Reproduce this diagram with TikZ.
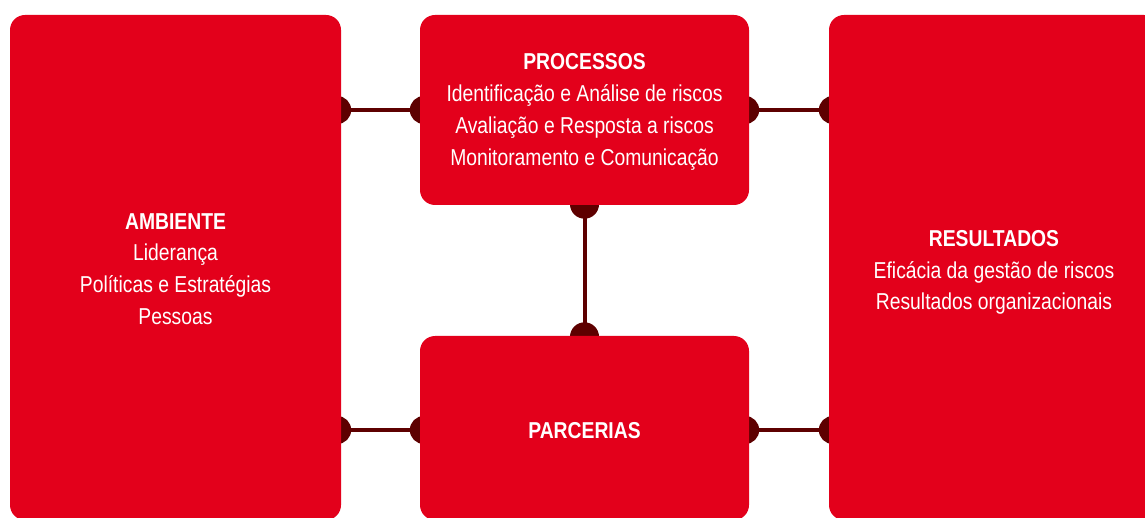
\documentclass[tikz,border=0pt]{standalone}
\usepackage{fontspec}
\setmainfont{Liberation Sans}[FakeStretch=0.84]
\usetikzlibrary{calc}
\definecolor{boxred}{HTML}{E3001B}
\definecolor{linkred}{HTML}{5E0000}
\pgfdeclarelayer{bg}
\pgfsetlayers{bg,main}
\begin{document}
\begin{tikzpicture}[x=1pt,y=-1pt,
  box/.style={fill=boxred, rounded corners=15pt, inner sep=0pt},
  txt/.style={inner sep=0pt, text=white, align=center,
    font=\fontsize{23}{31.8}\selectfont},
  link/.style={draw=linkred, line width=4pt},
  knob/.style={fill=linkred}]
\useasboundingbox (0,0) rectangle (1145,518);
\clip (0,0) rectangle (1145,518);
\node[box, minimum width=331pt, minimum height=505pt] (amb) at (175.5,267.5) {};
\node[box, minimum width=329pt, minimum height=190pt] (proc) at (584.5,110) {};
\node[box, minimum width=329pt, minimum height=184pt] (parc) at (584.5,428) {};
\node[box, minimum width=330pt, minimum height=505pt] (res) at (994,267.5) {};
\node[txt] (ambT) at ($(amb.center)+(0,1.5)$)
  {\textbf{AMBIENTE}\\Liderança\\Políticas e Estratégias\\Pessoas};
\node[txt] (procT) at ($(proc.center)+(0,2)$)
  {\textbf{PROCESSOS}\\Identificação e Análise de riscos\\Avaliação e Resposta a riscos\\Monitoramento e Comunicação};
\node[txt] (parcT) at ($(parc.center)+(0,3)$) {\textbf{PARCERIAS}};
\node[txt] (resT) at ($(res.center)+(0,5)$)
  {\textbf{RESULTADOS}\\Eficácia da gestão de riscos\\Resultados organizacionais};
\coordinate (a1) at (amb.east |- proc.west);
\coordinate (r1) at (res.west |- proc.east);
\coordinate (p2w) at ([yshift=-2pt]parc.west);
\coordinate (p2e) at ([yshift=-2pt]parc.east);
\coordinate (a2) at (amb.east |- p2w);
\coordinate (r2) at (res.west |- p2e);
\begin{pgfonlayer}{bg}
  \draw[link] (a1) -- (proc.west);
  \draw[link] (proc.east) -- (r1);
  \draw[link] (a2) -- (p2w);
  \draw[link] (p2e) -- (r2);
  \draw[link] (proc.south) -- (parc.north);
  \fill[knob] ([xshift=-4pt]a1) circle (14pt);
  \fill[knob] ([xshift=4pt]proc.west) circle (14pt);
  \fill[knob] ([xshift=-4pt]proc.east) circle (14pt);
  \fill[knob] ([xshift=4pt]r1) circle (14pt);
  \fill[knob] ([xshift=-4pt]a2) circle (14pt);
  \fill[knob] ([xshift=4pt]p2w) circle (14pt);
  \fill[knob] ([xshift=-4pt]p2e) circle (14pt);
  \fill[knob] ([xshift=4pt]r2) circle (14pt);
  \fill[knob] ([yshift=1pt]proc.south) circle (14.5pt);
  \fill[knob] ([yshift=-1pt]parc.north) circle (14.5pt);
\end{pgfonlayer}
\end{tikzpicture}
\end{document}
